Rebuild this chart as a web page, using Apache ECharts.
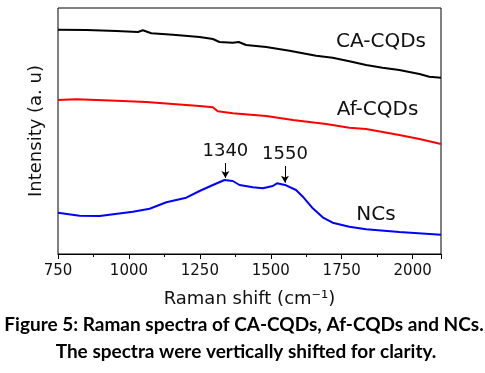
<!DOCTYPE html>
<html><head><meta charset="utf-8">
<script src="https://cdn.jsdelivr.net/npm/echarts@6/dist/echarts.min.js"></script>
<style>html,body{margin:0;padding:0;background:#fff}#c{width:485px;height:373px}</style>
</head><body><div id="c"></div>
<script>
const xTicks = [750, 1000, 1250, 1500, 1750, 2000];
const caCQDs = [[750,224.3],[850,224],[956,223],[1032,222],[1049,223.7],[1079,220.7],[1155,219.3],[1249,217],[1296,215],[1319,212],[1366,211.3],[1387,212],[1413,209],[1484,207],[1566,203.3],[1660,198.3],[1718,196.3],[1777,192.7],[1836,189],[1894,186.3],[1953,184],[2024,180],[2059,177.3],[2100,176.3]];
const afCQDs = [[750,154],[815,154.7],[956,153.3],[1061,152],[1155,150],[1249,148],[1296,146.7],[1313,142.7],[1366,140.7],[1484,138],[1578,134],[1695,130],[1777,126.3],[1836,125],[1953,119],[2024,115],[2100,110]];
const ncs = [[750,41.3],[826,38.3],[897,38],[1014,42.3],[1073,45.3],[1132,51.7],[1202,56.3],[1249,63],[1296,69],[1337,74],[1366,73],[1390,69],[1437,66.7],[1472,65.7],[1507,68],[1522,70.7],[1554,68.7],[1589,64],[1613,57.3],[1648,45.7],[1683,36.7],[1718,31.3],[1777,27.3],[1836,24.7],[1953,22],[2100,19.3]];
const peaks = [{x:1340, from:91, to:76}, {x:1550, from:88, to:71.3}];
const seriesNames = ['CA-CQDs','Af-CQDs','NCs'];

const chart = echarts.init(document.getElementById('c'), null, {renderer:'canvas'});
const F = '"DejaVu Sans", sans-serif';
const CF = 'bold 19px Lato, sans-serif';
chart.setOption({
  animation:false,
  grid:{left:58, right:44, top:8, bottom:119, show:true, borderColor:'#000', borderWidth:1, backgroundColor:'transparent'},
  xAxis:{type:'value', min:750, max:2100, interval:250,
    name:'Raman shift (cm⁻¹)', nameLocation:'middle', nameGap:36,
    nameTextStyle:{fontFamily:F, fontSize:18, color:'#111'},
    axisLine:{show:true, lineStyle:{color:'#000', width:1}},
    axisTick:{show:true, inside:false, length:5, lineStyle:{color:'#000'}},
    minorTick:{show:true, splitNumber:2, length:3, lineStyle:{color:'#000'}},
    splitLine:{show:false},
    axisLabel:{fontFamily:F, fontSize:15, color:'#111', margin:10,
      formatter:v=> xTicks.includes(v) ? String(v) : ''}
  },
  yAxis:{type:'value', min:0, max:246,
    name:'Intensity (a. u)', nameLocation:'middle', nameGap:13, nameRotate:90,
    nameTextStyle:{fontFamily:F, fontSize:18, color:'#111'},
    axisLine:{show:false}, axisTick:{show:false}, axisLabel:{show:false}, splitLine:{show:false}},
  series:[
    {name:seriesNames[0], type:'line', data:caCQDs, showSymbol:false, lineStyle:{color:'#000', width:2}},
    {name:seriesNames[1], type:'line', data:afCQDs, showSymbol:false, lineStyle:{color:'#ff0000', width:2}},
    {name:seriesNames[2], type:'line', data:ncs, showSymbol:false, lineStyle:{color:'#0000ff', width:2},
      markLine:{silent:true, symbol:['none','arrow'], symbolSize:[6,7],
        lineStyle:{color:'#000', width:1, type:'solid'},
        label:{show:true, position:'start', distance:3, fontFamily:F, fontSize:18, color:'#111', formatter:p=>p.data.lbl},
        data: peaks.map(p=>[{coord:[p.x,p.from], lbl:String(p.x)},{coord:[p.x,p.to]}])
      }}
  ],
  graphic:[
    {type:'text', x:381, y:42, style:{text:seriesNames[0], font:'20px '+F, fill:'#111', align:'center', verticalAlign:'middle'}},
    {type:'text', x:377.5, y:110, style:{text:seriesNames[1], font:'20px '+F, fill:'#111', align:'center', verticalAlign:'middle'}},
    {type:'text', x:376, y:215, style:{text:seriesNames[2], font:'20px '+F, fill:'#111', align:'center', verticalAlign:'middle'}},
    {type:'text', x:244, y:325, style:{text:'Figure 5: Raman spectra of CA-CQDs, Af-CQDs and NCs.', font:CF, fill:'#000', align:'center', verticalAlign:'middle'}},
    {type:'text', x:246, y:352, style:{text:'The spectra were vertically shifted for clarity.', font:CF, fill:'#000', align:'center', verticalAlign:'middle'}}
  ]
});
</script></body></html>
